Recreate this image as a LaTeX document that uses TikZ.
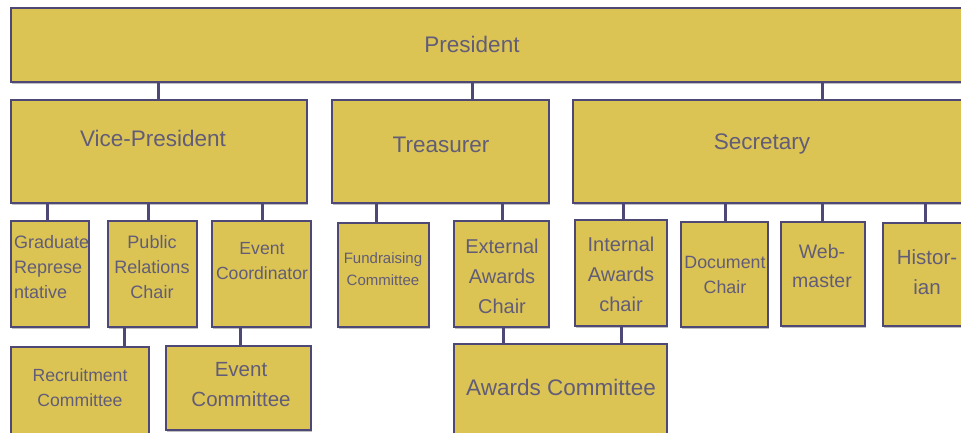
\documentclass[tikz,border=0pt]{standalone}
\usepackage{fontspec}
\setmainfont{Liberation Sans}
\usetikzlibrary{shadows}
\definecolor{gold}{RGB}{219,196,84}
\definecolor{edge}{RGB}{78,72,118}
\definecolor{ink}{RGB}{98,92,120}
\newcommand{\fsz}[2]{\fontsize{#1}{#2}\selectfont}
\begin{document}
\begin{tikzpicture}[x=1pt,y=-1pt,
  box/.style={draw=edge,line width=1.3pt,fill=gold,inner sep=0pt,
    drop shadow={shadow xshift=1pt,shadow yshift=-1.5pt,fill=black,opacity=0.25}},
  lbl/.style={text=ink,inner sep=0pt,align=center},
  link/.style={draw=edge,line width=3pt}]
\clip (0,0) rectangle (961,432);
\fill[white] (0,0) rectangle (961,432);
% boxes
\node[box,minimum width=964pt,minimum height=74pt] (pres) at (493,45) {};
\node[box,minimum width=296pt,minimum height=103pt] (vp) at (159,151.5) {};
\node[box,minimum width=217pt,minimum height=103pt] (tr) at (440.5,151.5) {};
\node[box,minimum width=402pt,minimum height=103pt] (sec) at (774,151.5) {};
\node[box,minimum width=78pt,minimum height=106pt] (grad) at (50,274) {};
\node[box,minimum width=89pt,minimum height=106pt] (pr) at (152.5,274) {};
\node[box,minimum width=99pt,minimum height=106pt] (evco) at (261.5,274) {};
\node[box,minimum width=91pt,minimum height=104pt] (fund) at (383.5,275) {};
\node[box,minimum width=95pt,minimum height=106pt] (ext) at (501.5,274) {};
\node[box,minimum width=92pt,minimum height=106pt] (int) at (621,273) {};
\node[box,minimum width=87pt,minimum height=105pt] (doc) at (724.5,274.5) {};
\node[box,minimum width=84pt,minimum height=104pt] (web) at (823,274) {};
\node[box,minimum width=88pt,minimum height=103pt] (hist) at (927,274.5) {};
\node[box,minimum width=138pt,minimum height=113pt] (recr) at (80,403.5) {};
\node[box,minimum width=145pt,minimum height=84pt] (evcm) at (238.5,388) {};
\node[box,minimum width=213pt,minimum height=116pt] (awc) at (560.5,402) {};
% links
\draw[link] (pres.south -| 158,0) -- (vp.north -| 158,0);
\draw[link] (pres.south -| 472,0) -- (tr.north -| 472,0);
\draw[link] (pres.south -| 822,0) -- (sec.north -| 822,0);
\draw[link] (vp.south -| 47,0) -- (grad.north -| 47,0);
\draw[link] (vp.south -| 148,0) -- (pr.north -| 148,0);
\draw[link] (vp.south -| 262,0) -- (evco.north -| 262,0);
\draw[link] (tr.south -| 376,0) -- (fund.north -| 376,0);
\draw[link] (tr.south -| 502,0) -- (ext.north -| 502,0);
\draw[link] (sec.south -| 623,0) -- (int.north -| 623,0);
\draw[link] (sec.south -| 725,0) -- (doc.north -| 725,0);
\draw[link] (sec.south -| 822,0) -- (web.north -| 822,0);
\draw[link] (sec.south -| 925,0) -- (hist.north -| 925,0);
\draw[link] (pr.south -| 124,0) -- (recr.north -| 124,0);
\draw[link] (evco.south -| 240,0) -- (evcm.north -| 240,0);
\draw[link] (ext.south -| 503,0) -- (awc.north -| 503,0);
\draw[link] (int.south -| 621,0) -- (awc.north -| 621,0);
% texts
\node[lbl,font=\fsz{22.5}{27}] (pres-t) at (472,44) {President};
\node[lbl,font=\fsz{22.5}{27}] (vp-t) at (153,138) {Vice-President};
\node[lbl,font=\fsz{22.5}{27}] (tr-t) at (441,145) {Treasurer};
\node[lbl,font=\fsz{22.5}{27}] (sec-t) at (762,144) {Secretary};
\node[lbl,font=\fsz{18}{25},align=left,anchor=west] (grad-t) at (14,267) {Graduate\\Represe\\ntative};
\node[lbl,font=\fsz{18}{25}] (pr-t) at (152,267) {Public\\Relations\\Chair};
\node[lbl,font=\fsz{17.6}{25}] (evco-t) at (262,261.5) {Event\\Coordinator};
\node[lbl,font=\fsz{15}{22}] (fund-t) at (383,269) {Fundraising\\Committee};
\node[lbl,font=\fsz{20}{30}] (ext-t) at (502,276) {External\\Awards\\Chair};
\node[lbl,font=\fsz{20}{30}] (int-t) at (621,274) {Internal\\Awards\\chair};
\node[lbl,font=\fsz{17.8}{25}] (doc-t) at (725,274.5) {Document\\Chair};
\node[lbl,font=\fsz{19.5}{29}] (web-t) at (822,266.5) {Web-\\master};
\node[lbl,font=\fsz{20.5}{30}] (hist-t) at (927,272) {Histor-\\ian};
\node[lbl,font=\fsz{17.6}{25}] (recr-t) at (80,387.5) {Recruitment\\Committee};
\node[lbl,font=\fsz{20.5}{30}] (evcm-t) at (241,385) {Event\\Committee};
\node[lbl,font=\fsz{22.5}{27}] (awc-t) at (561,387) {Awards Committee};
\end{tikzpicture}
\end{document}
